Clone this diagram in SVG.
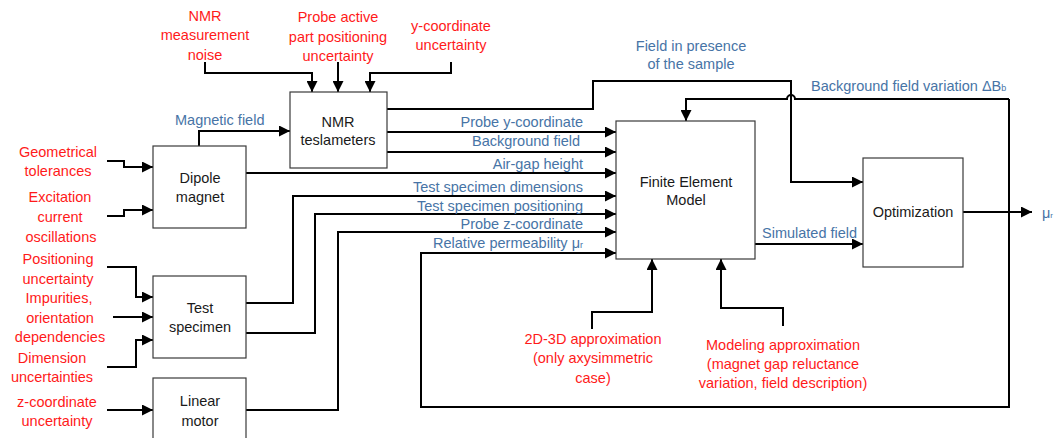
<svg xmlns="http://www.w3.org/2000/svg" width="1055" height="438" viewBox="0 0 1055 438">
<defs>
<marker id="ah" markerUnits="userSpaceOnUse" markerWidth="11" markerHeight="11" viewBox="0 0 10 10" refX="10" refY="5" orient="auto">
<path d="M0,0 L10,5 L0,10 z" fill="#000"/>
</marker>
<style>
.box{fill:#fff;stroke:#3a3a3a;stroke-width:1.2}
.bt{font-family:"Liberation Sans",Arial,sans-serif;font-size:14.5px;fill:#1a1a1a;text-anchor:middle}
.rt{font-family:"Liberation Sans",Arial,sans-serif;font-size:14.5px;fill:#ff1a1a;text-anchor:middle}
.lb{font-family:"Liberation Sans",Arial,sans-serif;font-size:14.5px;fill:#4774a6}
.ln{fill:none;stroke:#000;stroke-width:2}
.ar{fill:none;stroke:#000;stroke-width:2;marker-end:url(#ah)}
</style>
</defs>
<rect width="1055" height="438" fill="#fff"/>

<g id="connectors">
<!-- into NMR -->
<path class="ar" d="M205,62 V73 H312 V92"/>
<path class="ar" d="M338,62 V92"/>
<path class="ar" d="M451,62 V73 H370 V92"/>
<!-- magnetic field -->
<path class="ar" d="M199,146 V131 H290"/>
<!-- into dipole -->
<path class="ar" d="M107,161 H124 V167 H153"/>
<path class="ar" d="M107,216 H124 V210 H153"/>
<!-- into test specimen -->
<path class="ar" d="M107,267 H136 V297 H153"/>
<path class="ar" d="M113,317 H153"/>
<path class="ar" d="M107,367 H136 V340 H153"/>
<!-- into linear motor -->
<path class="ar" d="M107,410 H153"/>
<!-- into FEM -->
<path class="ar" d="M387,132 H616"/>
<path class="ar" d="M387,152 H616"/>
<path class="ar" d="M246,173 H616"/>
<path class="ar" d="M246,303 H293 V196 H616"/>
<path class="ar" d="M246,333 H315 V214 H616"/>
<path class="ar" d="M246,410 H338 V232 H616"/>
<path class="ar" d="M1009,99 V407 H421 V253 H616"/>
<path class="ar" d="M1009,99 H795 A4,4 0 0 0 787,99 H686 V121"/>
<!-- field in presence -->
<path class="ar" d="M387,109 H593 V81 H791 V182 H863"/>
<!-- simulated field -->
<path class="ar" d="M755,244 H863"/>
<!-- output -->
<path class="ar" d="M963,212 H1032"/>
<!-- bottom approximations -->
<path class="ar" d="M592,329 V312 H652 V259"/>
<path class="ar" d="M783,326 V308 H721 V259"/>
</g>

<g id="nmr">
<rect class="box" x="290" y="92" width="97" height="76"/>
<text class="bt" x="338" y="127">NMR</text>
<text class="bt" x="338" y="145">teslameters</text>
</g>
<g id="dipole">
<rect class="box" x="153" y="146" width="93" height="82"/>
<text class="bt" x="200" y="183">Dipole</text>
<text class="bt" x="200" y="202">magnet</text>
</g>
<g id="specimen">
<rect class="box" x="153" y="276" width="93" height="82"/>
<text class="bt" x="200" y="313">Test</text>
<text class="bt" x="200" y="332">specimen</text>
</g>
<g id="motor">
<rect class="box" x="153" y="378" width="93" height="70"/>
<text class="bt" x="200" y="406">Linear</text>
<text class="bt" x="200" y="426">motor</text>
</g>
<g id="fem">
<rect class="box" x="616" y="121" width="139" height="138"/>
<text class="bt" x="686" y="187">Finite Element</text>
<text class="bt" x="686" y="205">Model</text>
</g>
<g id="optim">
<rect class="box" x="863" y="158" width="100" height="109"/>
<text class="bt" x="913" y="217">Optimization</text>
</g>

<g id="uncertainties">
<text class="rt" x="205" y="21">NMR</text>
<text class="rt" x="205" y="40">measurement</text>
<text class="rt" x="205" y="60">noise</text>
<text class="rt" x="338" y="22">Probe active</text>
<text class="rt" x="338" y="42">part positioning</text>
<text class="rt" x="338" y="61">uncertainty</text>
<text class="rt" x="451" y="31">y-coordinate</text>
<text class="rt" x="451" y="50">uncertainty</text>
<text class="rt" x="58" y="157">Geometrical</text>
<text class="rt" x="58" y="176">tolerances</text>
<text class="rt" x="60" y="202">Excitation</text>
<text class="rt" x="60" y="222">current</text>
<text class="rt" x="61" y="242">oscillations</text>
<text class="rt" x="58" y="264">Positioning</text>
<text class="rt" x="58" y="284">uncertainty</text>
<text class="rt" x="59" y="303">Impurities,</text>
<text class="rt" x="60" y="323">orientation</text>
<text class="rt" x="60" y="342">dependencies</text>
<text class="rt" x="52" y="363">Dimension</text>
<text class="rt" x="52" y="382">uncertainties</text>
<text class="rt" x="57" y="407">z-coordinate</text>
<text class="rt" x="57" y="426">uncertainty</text>
<text class="rt" x="593" y="344">2D-3D approximation</text>
<text class="rt" x="593" y="363">(only axysimmetric</text>
<text class="rt" x="593" y="383">case)</text>
<text class="rt" x="783" y="350">Modeling approximation</text>
<text class="rt" x="783" y="369">(magnet gap reluctance</text>
<text class="rt" x="783" y="388">variation, field description)</text>
</g>

<g id="labels">
<text class="lb" x="175" y="125">Magnetic field</text>
<text class="lb" x="583" y="127" text-anchor="end">Probe y-coordinate</text>
<text class="lb" x="580" y="146" text-anchor="end">Background field</text>
<text class="lb" x="583" y="169" text-anchor="end">Air-gap height</text>
<text class="lb" x="583" y="192" text-anchor="end">Test specimen dimensions</text>
<text class="lb" x="583" y="211" text-anchor="end">Test specimen positioning</text>
<text class="lb" x="583" y="229" text-anchor="end">Probe z-coordinate</text>
<text class="lb" x="583" y="248" text-anchor="end">Relative permeability μ<tspan font-size="9">r</tspan></text>
<text class="lb" x="691" y="51" text-anchor="middle">Field in presence</text>
<text class="lb" x="691" y="69" text-anchor="middle">of the sample</text>
<text class="lb" x="811" y="91">Background field variation ΔB<tspan font-size="9">b</tspan></text>
<text class="lb" x="762" y="238">Simulated field</text>
<text class="lb" x="1042" y="218" font-size="12">μ<tspan font-size="8">r</tspan></text>
</g>
</svg>
